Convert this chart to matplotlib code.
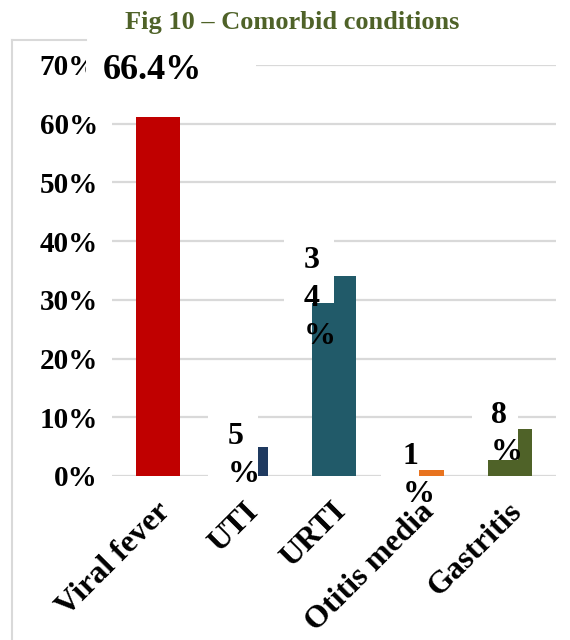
import matplotlib.pyplot as plt
import matplotlib.transforms as mtransforms
from matplotlib.patches import Rectangle
from matplotlib.lines import Line2D
from matplotlib.ticker import PercentFormatter

plt.rcParams['font.family'] = ['Liberation Serif', 'DejaVu Serif']
plt.rcParams['font.weight'] = 'bold'

# comorbidities and their share of patients (%)
conditions = ['Viral fever', 'UTI', 'URTI', 'Otitis media', 'Gastritis']
percent = [66.4, 5, 34, 1, 8]
value_labels = ['66.4%', '5%', '34%', '1%', '8%']
yticks = [0, 10, 20, 30, 40, 50, 60, 70]

colors = ['#C00000', '#1F3A60', '#215A69', '#E8731F', '#4F6228']
wrap = [False, True, True, True, True]
# label text offset (px from bar top) and white label box (x0, x1, y0, y1 in px)
text_off = [(-55, 16), (-18, -9), (-30, -22), (-19, -5), (-19, -5)]
box_off = [(-72, 98, -31, 41), (-38, 12, -31, 37), (-50, 0, -27, 40),
           (-41, -3, -8, 30), (-38, 8.5, -31, 33)]

fig = plt.figure(figsize=(5.7, 6.4), dpi=100)
ax = fig.add_axes([0.1965, 0.25625, 0.7789, 0.6422])

x = range(len(conditions))
ax.bar(x, percent, width=0.51, color=colors, zorder=2)
ax.set_xlim(-0.523, 4.523)
ax.set_ylim(0, 70)
ax.set_yticks(yticks)
ax.yaxis.set_major_formatter(PercentFormatter(decimals=0))
ax.grid(axis='y', color='#D9D9D9', linewidth=1.6, zorder=0)
ax.set_axisbelow(True)
for s in ax.spines.values():
    s.set_visible(False)
ax.tick_params(axis='y', length=0, pad=10, labelsize=21)
ax.tick_params(axis='x', length=0, pad=14, labelsize=23)
ax.set_xticks(list(x))
ax.set_xticklabels(conditions, rotation=45, ha='right', va='center',
                   rotation_mode='anchor')
shift = mtransforms.ScaledTranslation(0.08, -0.12, fig.dpi_scale_trans)
for lab in ax.get_xticklabels():
    lab.set_transform(lab.get_transform() + shift)

# data labels with their white boxes
for i, v in enumerate(percent):
    px, py = ax.transData.transform((i, v))
    x0, x1, y0, y1 = box_off[i]
    ax.add_patch(Rectangle((px + x0, py + y0), x1 - x0, y1 - y0,
                           transform=mtransforms.IdentityTransform(),
                           facecolor='white', edgecolor='none',
                           zorder=3, clip_on=False))
    txt = '\n'.join(value_labels[i]) if wrap[i] else value_labels[i]
    ax.annotate(txt, xy=(i, v), xytext=text_off[i], textcoords='offset pixels',
                ha='left', va='center', fontsize=26 if not wrap[i] else 23,
                linespacing=1.4, zorder=4, annotation_clip=False)

# chart frame
fig.add_artist(Line2D([12 / 570, 12 / 570], [0, 1 - 40 / 640],
                      color='#D9D9D9', linewidth=1.5))
fig.add_artist(Line2D([12 / 570, 86 / 570], [1 - 40 / 640, 1 - 40 / 640],
                      color='#D9D9D9', linewidth=1.5))

fig.text(0.512, 1 - 22 / 640, 'Fig 10 \u2013 Comorbid conditions',
         ha='center', va='center', fontsize=19, color='#4F6228',
         fontweight='bold')

fig.savefig('out.png', dpi=100)
